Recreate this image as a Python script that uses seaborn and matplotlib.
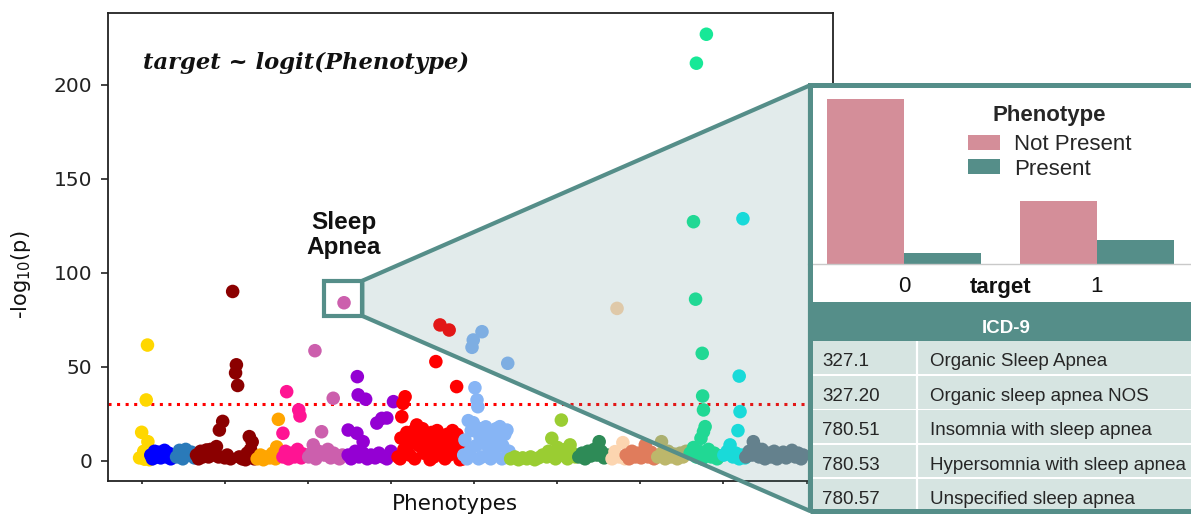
import matplotlib
matplotlib.use("Agg")
import numpy as np
import pandas as pd
import matplotlib.pyplot as plt
import seaborn as sns
from matplotlib.patches import Rectangle, Polygon
from matplotlib.colors import to_rgb

# ---------------- PheWAS results: (phenotype index, -log10 p) per category ----------------
infectious = ([-5, 0, 2, 5, 7, 11, 14, 15, 19],
              [1.5, 15.1, 2, 5, 0.8, 32.3, 61.5, 10.1, 0.5])
neoplasms = ([22, 26, 31, 36, 41, 46, 50, 55, 60, 65, 70],
             [3, 1, 5, 2, 4.5, 1.5, 3.5, 5.5, 2, 4, 1])
endocrine = ([84, 91, 99, 106, 113, 120, 127],
             [2, 5.5, 1, 6, 3, 4.5, 1.5])
metabolic = ([132, 137, 142, 147, 152, 156, 161, 166, 171, 176, 180, 185, 187, 195, 200,
              206, 214, 219, 226, 228, 231, 235, 242, 250, 254, 259, 262, 266, 271],
             [3, 1, 5, 2, 4.5, 5.7, 2, 6, 4, 3, 7.5, 2, 16.3, 20.9, 1.5,
              3, 1, 90, 46.7, 51, 40, 2, 1, 0.5, 4, 12.8, 6, 10, 1])
hematopoietic = ([278, 286, 293, 300, 308, 315, 322, 325, 329],
                 [1, 3, 0.5, 2, 1.5, 4, 1, 7.3, 22])
mental = ([340, 340, 346, 349, 353, 361, 368, 375, 378, 381, 384, 389],
          [2, 14.6, 5, 36.7, 1, 4, 2, 6, 27, 23.8, 1.5, 3.5])
neurological = ([402, 409, 413, 417, 419, 426, 433, 440, 448, 455, 461, 462, 469, 476, 483, 487],
                [2, 4, 8.4, 58.5, 1, 5, 15.4, 3, 6, 1.5, 33.2, 4, 2, 1, 3, 84])
sense_organs = ([497, 497, 504, 514, 519, 518, 521, 523, 533, 533, 539, 543, 552, 562, 566,
                 571, 578, 581, 590, 590, 600, 606],
                [3, 16.3, 1, 5, 44.7, 14.6, 35, 2, 10.1, 4, 32.7, 1, 3, 1.5, 20,
                 4, 22.5, 2, 22.7, 1, 5, 31.4])
circulatory = ([617, 622, 624, 626, 629, 631, 634, 638, 641, 645, 650, 655, 657, 660, 662,
                667, 672, 676, 679, 684, 687, 689, 694, 696, 698, 701, 703, 708, 711, 713,
                718, 720, 725, 730, 732, 735, 740, 740, 744, 748, 751, 755, 758, 759, 764,
                766, 768, 773],
               [2, 1, 12, 23.4, 30.5, 6, 34, 15, 8, 3, 10, 16, 1, 12, 19,
                8, 13, 17, 4, 11, 7, 14, 0.5, 6, 15, 12, 2, 52.7, 16, 9,
                72.2, 13, 5, 1, 10, 14, 69.5, 3, 12, 16, 7, 11, 39.4, 14, 4,
                0.5, 9, 1])
respiratory = ([775, 778, 783, 786, 790, 793, 795, 798, 798, 802, 805, 807, 809, 811, 814,
                816, 819, 819, 822, 826, 828, 831, 834, 836, 840, 843, 846, 850, 853, 857,
                860, 862, 867, 869, 874, 879, 881, 884, 891],
               [3, 11, 1, 21.3, 5, 16, 60.3, 64.2, 20.2, 38.8, 8, 32.3, 28.7, 1, 12.8,
                17, 68.6, 2, 15, 9, 18, 14.6, 11, 4, 1, 11, 16, 6, 17, 13,
                10, 18.1, 1, 8, 14, 16.3, 51.8, 5, 2])
digestive = ([888, 898, 907, 917, 927, 936, 946, 955, 965, 975, 979, 987, 994, 996, 1001,
              1010, 1011, 1020, 1025, 1031, 1037, 1044],
             [1, 2, 0.5, 1.5, 1, 2, 0.5, 1.5, 3, 2, 5, 11.9, 4, 1, 7,
              21.6, 3, 6, 1, 8.4, 4, 2])
genitourinary = ([1052, 1060, 1067, 1074, 1081, 1089, 1096, 1101, 1106, 1113, 1120],
                 [2, 4, 1, 5, 2.5, 6, 3, 10.1, 5, 1.5, 3])
pregnancy = ([1132, 1139, 1144, 1149, 1158, 1163],
             [1, 4.8, 81, 2, 9.6, 1])
dermatologic = ([1166, 1173, 1180, 1188, 1195, 1202, 1209, 1212, 1219, 1226, 1233],
                [3, 1, 5, 2, 4, 1.5, 3, 8.4, 2, 4.5, 1])
musculoskeletal = ([1242, 1251, 1252, 1260, 1267, 1274, 1281, 1289, 1296, 1303, 1310],
                   [2, 10.1, 4, 1, 5, 2, 3.5, 1, 4, 2, 5])
congenital = ([1320, 1328, 1328, 1333, 1335, 1335, 1342, 1346, 1349, 1349, 1350, 1352, 1352,
               1356, 1356, 1359, 1364, 1371, 1378, 1385, 1392],
              [4, 7, 127.1, 85.9, 2, 211.4, 5, 11.9, 1, 57.1, 34.4, 27, 15.4,
               3, 18.1, 226.8, 6, 2, 4, 1, 2.5])
symptoms = ([1401, 1409, 1416, 1423, 1430, 1435, 1438, 1438, 1440, 1445, 1447, 1452],
            [3, 5, 8.4, 2, 4, 16, 1, 45, 26.1, 3, 128.7, 1.5])
injuries = ([1454, 1462, 1469, 1472, 1478, 1486, 1493, 1500, 1508, 1515, 1522, 1529, 1537,
             1544, 1551, 1558, 1565, 1573, 1580, 1587, 1592],
            [2, 5, 3, 10.1, 7, 2, 6, 1, 4, 2, 5, 1, 3,
             4.5, 1.5, 3, 5.5, 2, 4, 1, 3])

category_names = ["infectious", "neoplasms", "endocrine", "metabolic", "hematopoietic",
                  "mental", "neurological", "sense_organs", "circulatory", "respiratory",
                  "digestive", "genitourinary", "pregnancy", "dermatologic",
                  "musculoskeletal", "congenital", "symptoms", "injuries"]
category_data = [infectious, neoplasms, endocrine, metabolic, hematopoietic, mental,
                 neurological, sense_organs, circulatory, respiratory, digestive,
                 genitourinary, pregnancy, dermatologic, musculoskeletal, congenital,
                 symptoms, injuries]
category_colors = ["#ffd700", "#0000ff", "#2a7ab9", "#8b0000", "#ffa500", "#ff1493",
                   "#cc5fad", "#9400d3", "#ff0000", "#87b5f5", "#9acd32", "#2e8b57",
                   "#fcd5b0", "#e07c5c", "#bdb76b", "#17e897", "#0eeaea", "#687f8f"]
significance_threshold = 30

# ---------------- inset: target vs. phenotype presence ----------------
target_class = [0, 0, 1, 1]
phenotype_status = ["Not Present", "Present", "Not Present", "Present"]
patient_counts = [165, 11, 63, 24]

# ---------------- inset: ICD-9 codes grouped into the phenotype ----------------
icd9_codes = ["327.1", "327.20", "780.51", "780.53", "780.57"]
icd9_desc = ["Organic Sleep Apnea", "Organic sleep apnea NOS", "Insomnia with sleep apnea",
             "Hypersomnia with sleep apnea", "Unspecified sleep apnea"]

teal = "#558e89"
pink = "#d48e99"
row_bg = "#d6e4e1"

sns.set_theme(style="ticks")
plt.rcParams["font.family"] = ["DejaVu Sans"]

W, H = 1191, 514
fig = plt.figure(figsize=(W / 100, H / 100), dpi=100)
fig.patch.set_facecolor("white")


def fx(px):
    return px / W


def fy(py):
    return 1 - py / H


# ---------------- Manhattan plot ----------------
records = []
for name, (idx, vals) in zip(category_names, category_data):
    for i, v in zip(idx, vals):
        records.append((name, i, v))
df = pd.DataFrame(records, columns=["category", "phenotype_index", "neglog10p"])

ax = fig.add_axes([fx(108), fy(481), fx(832.7) - fx(108), fy(13) - fy(481)])
ax.set_facecolor("white")
sns.scatterplot(data=df, x="phenotype_index", y="neglog10p", hue="category",
                hue_order=category_names, palette=category_colors, s=95,
                linewidth=0, legend=False, ax=ax, zorder=3)
ax.axhline(significance_threshold, color="red", ls=(0, (1, 1.8)), lw=2.2, zorder=2)
ax.set_xlim(-81, 1663)
ax.set_ylim(-10.8, 238.1)
ax.set_xticks(range(0, 1601, 200))
ax.set_yticks([0, 50, 100, 150, 200])
ax.tick_params(axis="x", labelbottom=False, length=2.5, width=1.2, color="#222222")
ax.tick_params(axis="y", labelsize=14.5, length=5, width=1.2, pad=6.5,
               color="#222222", labelcolor="#222222")
for sp in ax.spines.values():
    sp.set_linewidth(1.3)
    sp.set_color("#222222")
ax.set_xlabel("Phenotypes", fontsize=15.5, color="#111111")
ax.xaxis.set_label_coords(0.479, -0.028)
ax.set_ylabel(r"-log$_{10}$(p)", fontsize=15, color="#111111")
ax.yaxis.set_label_coords(-0.1035, 0.44)

ax.text(0.048, 0.893, "target ~ logit(Phenotype)", transform=ax.transAxes,
        family="DejaVu Serif", style="italic", weight="bold", fontsize=16.3,
        ha="left", va="center", color="#111111")

# highlight the sleep apnea phenotype
neuro_idx, neuro_vals = neurological
k = int(np.argmax(neuro_vals))
sa_x, sa_y = neuro_idx[k], neuro_vals[k]
box_x0, box_x1 = sa_x - 49, sa_x + 44
box_y0, box_y1 = sa_y - 7, sa_y + 11.7
ax.add_patch(Rectangle((box_x0, box_y0), box_x1 - box_x0, box_y1 - box_y0,
                       fill=False, ec=teal, lw=3, zorder=6))
ax.text(sa_x, sa_y + 36, "Sleep\nApnea", ha="center", va="center", fontsize=17.5,
        weight="bold", family="Liberation Sans", linespacing=1.15, color="#111111")

# zoom wedge from the highlight box to the inset panel
inset_left, inset_top, inset_bottom, inset_right = 810, 85.3, 511, 1200
to_fig = fig.transFigure.inverted()
p_top = to_fig.transform(ax.transData.transform((box_x1, box_y1)))
p_bot = to_fig.transform(ax.transData.transform((box_x1, box_y0)))
wedge = Polygon([p_top, (fx(inset_left), fy(inset_top)), (fx(inset_left), fy(inset_bottom)), p_bot],
                closed=True, transform=fig.transFigure,
                facecolor=(*to_rgb(teal), 0.17), edgecolor=teal, lw=3,
                joinstyle="round", zorder=1)
fig.add_artist(wedge)

# inset panel background
fig.add_artist(Rectangle((fx(inset_left), fy(inset_bottom)), fx(inset_right) - fx(inset_left),
                         fy(inset_top) - fy(inset_bottom), transform=fig.transFigure,
                         fc="white", ec="none", zorder=2))

# ---------------- inset bar chart ----------------
bar_df = pd.DataFrame({"target": target_class, "Phenotype": phenotype_status,
                       "count": patient_counts})
ax_bar = fig.add_axes([fx(807.5), fy(264), 386 / W, 176 / H])
ax_bar.set_zorder(3)
ax_bar.set_facecolor("white")
sns.barplot(data=bar_df, x="target", y="count", hue="Phenotype",
            hue_order=["Not Present", "Present"], palette=[pink, teal], saturation=1,
            errorbar=None, width=0.8, linewidth=0, ax=ax_bar)
ax_bar.set_xlim(-0.5, 1.5)
ax_bar.set_ylim(0, 176)
ax_bar.set_yticks([])
ax_bar.set_ylabel("")
for s in ["left", "top", "right"]:
    ax_bar.spines[s].set_visible(False)
ax_bar.spines["bottom"].set_color("#c9c9c9")
ax_bar.spines["bottom"].set_linewidth(1)
ax_bar.tick_params(axis="x", length=0, pad=9, labelsize=16, labelcolor="#111111")
for lbl in ax_bar.get_xticklabels():
    lbl.set_family("Liberation Sans")
ax_bar.set_xlabel("target", fontsize=16, fontweight="bold", family="Liberation Sans",
                  color="#111111")
ax_bar.xaxis.set_label_coords(0.5, (264 - 288) / 176)
ax_bar.xaxis.label.set_va("center")
sns.move_legend(ax_bar, "upper left", bbox_to_anchor=(0.416, 0.901), frameon=False,
                title="Phenotype",
                prop={"family": "Liberation Sans", "size": 16},
                title_fontproperties={"family": "Liberation Sans", "size": 16, "weight": "bold"},
                handlelength=1.45, handleheight=0.65, handletextpad=0.6,
                labelspacing=0.14, borderpad=0, borderaxespad=0)
# a little more room between the legend title and its entries
ax_bar.get_legend()._legend_box.sep = 5.8

# ---------------- inset ICD-9 table ----------------
ax_tab = fig.add_axes([fx(inset_left), fy(inset_bottom), fx(inset_right) - fx(inset_left),
                       fy(301.5) - fy(inset_bottom)])
ax_tab.set_zorder(3)
ax_tab.set_xlim(inset_left, inset_right)
ax_tab.set_ylim(inset_bottom, 301.5)
ax_tab.axis("off")
header_bottom = 340.5
row_h = 34.4
ax_tab.add_patch(Rectangle((inset_left, 301.5), inset_right - inset_left,
                           header_bottom - 301.5, fc=teal, ec="none"))
ax_tab.text(1006, 333, "ICD-9", ha="center", va="baseline", color="white",
            fontsize=13.5, weight="bold", family="Liberation Sans")
for i, (code, desc) in enumerate(zip(icd9_codes, icd9_desc)):
    top = header_bottom + i * row_h
    ax_tab.add_patch(Rectangle((813.5, top + 0.8), inset_right - 813.5, row_h - 1.6,
                               fc=row_bg, ec="none"))
    ax_tab.text(822.5, top + 26, code, ha="left", va="baseline", fontsize=13.5,
                family="Liberation Sans", color="#262626")
    ax_tab.text(930, top + 26, desc, ha="left", va="baseline", fontsize=13.5,
                family="Liberation Sans", color="#262626")
ax_tab.vlines(917.3, header_bottom, inset_bottom, color="white", lw=1.6)

# inset border
fig.add_artist(Rectangle((fx(inset_left), fy(inset_bottom)), fx(inset_right) - fx(inset_left),
                         fy(inset_top) - fy(inset_bottom), transform=fig.transFigure,
                         fill=False, ec=teal, lw=3.6, zorder=5))

fig.savefig("out.png", dpi=100, facecolor="white")
